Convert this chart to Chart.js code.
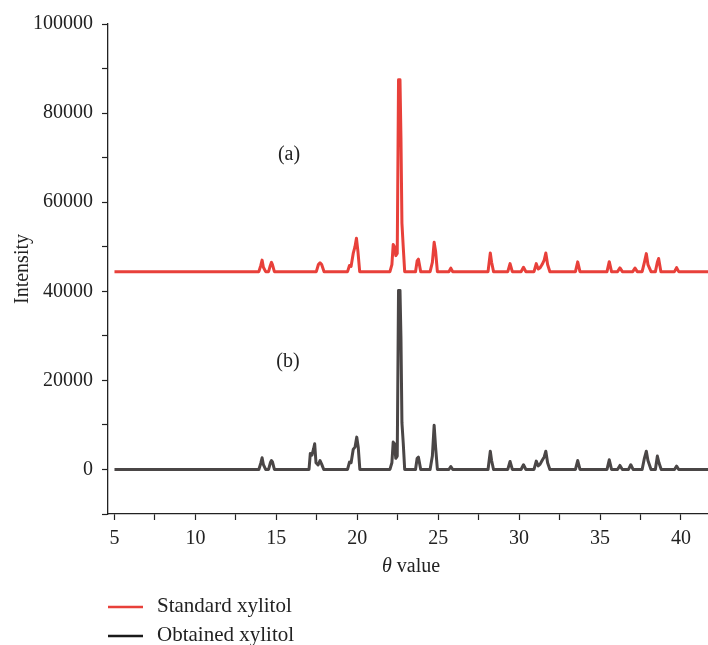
<!DOCTYPE html>
<html>
<head>
<meta charset="utf-8">
<script src="https://cdn.jsdelivr.net/npm/chart.js@4/dist/chart.umd.min.js"></script>
<style>
  html, body { margin: 0; padding: 0; background: #fff; }
  #wrap { position: relative; width: 708px; height: 645px; }
</style>
</head>
<body>
<div id="wrap"><canvas id="c" width="708" height="645"></canvas></div>
<script>
// ---- data ----
const seriesNames = ["Standard xylitol", "Obtained xylitol"];
const panelLabels = ["(a)", "(b)"];
const xTicks = [5, 10, 15, 20, 25, 30, 35, 40];
const yTicks = [0, 20000, 40000, 60000, 80000, 100000];

const thetaStd = [5.0, 13.92, 14.04, 14.12, 14.2, 14.34, 14.52, 14.63, 14.7, 14.76, 14.88,
  17.47, 17.6, 17.7, 17.8, 17.95,
  19.4, 19.52, 19.62, 19.75, 19.86, 19.95, 20.04, 20.15,
  22.02, 22.14, 22.22, 22.3, 22.38, 22.47, 22.55, 22.64, 22.7, 22.76, 22.84, 22.93,
  23.6, 23.7, 23.78, 23.92,
  24.5, 24.64, 24.75, 24.84, 24.95,
  25.66, 25.78, 25.9,
  28.08, 28.22, 28.3, 28.42,
  29.3, 29.44, 29.58,
  30.12, 30.27, 30.42,
  30.92, 31.06, 31.18, 31.3, 31.42, 31.55, 31.65, 31.76, 31.9,
  33.48, 33.62, 33.76,
  35.43, 35.57, 35.71,
  36.08, 36.23, 36.38,
  37.02, 37.16, 37.3,
  37.6, 37.74, 37.86, 37.96, 38.15,
  38.42, 38.54, 38.62, 38.76,
  39.6, 39.73, 39.86,
  41.7];
const intStd = [44400, 44400, 45800, 47000, 45400, 44400, 44400, 45800, 46500, 46000, 44400,
  44400, 46000, 46400, 46000, 44400,
  44400, 45800, 45600, 48500, 50000, 51900, 49000, 44400,
  44400, 46000, 50500, 50000, 48000, 48500, 87500, 87500, 74400, 55300, 50000, 44400,
  44400, 46800, 47200, 44400,
  44400, 46500, 51000, 49000, 44400,
  44400, 45200, 44400,
  44400, 48600, 46500, 44400,
  44400, 46200, 44400,
  44400, 45400, 44400,
  44400, 46200, 45000, 45300, 46000, 47000, 48600, 46000, 44400,
  44400, 46600, 44400,
  44400, 46650, 44400,
  44400, 45240, 44400,
  44400, 45200, 44400,
  44400, 46500, 48450, 46000, 44400,
  44400, 46500, 47350, 44400,
  44400, 45300, 44400,
  44400];

const thetaObt = [5.0, 13.92, 14.04, 14.12, 14.2, 14.34, 14.52, 14.63, 14.7, 14.76, 14.88,
  17.02, 17.1, 17.2, 17.3, 17.37, 17.45, 17.58, 17.7, 17.8, 17.93,
  19.4, 19.52, 19.62, 19.75, 19.86, 19.97, 20.06, 20.16,
  22.02, 22.14, 22.22, 22.3, 22.38, 22.47, 22.55, 22.64, 22.7, 22.76, 22.84, 22.93,
  23.6, 23.7, 23.78, 23.92,
  24.5, 24.64, 24.75, 24.84, 24.95,
  25.66, 25.78, 25.9,
  28.08, 28.22, 28.3, 28.42,
  29.3, 29.44, 29.58,
  30.12, 30.27, 30.42,
  30.92, 31.06, 31.18, 31.3, 31.42, 31.55, 31.65, 31.76, 31.9,
  33.48, 33.62, 33.76,
  35.43, 35.57, 35.71,
  36.08, 36.23, 36.38,
  36.76, 36.9, 37.04,
  37.6, 37.74, 37.86, 37.96, 38.15,
  38.42, 38.54, 38.64, 38.78,
  39.6, 39.73, 39.86,
  41.7];
const intObt = [0, 0, 1400, 2630, 1100, 0, 0, 1500, 2000, 1700, 0,
  0, 3600, 3200, 4600, 5770, 1500, 1000, 2000, 1200, 0,
  0, 1650, 1500, 4500, 5000, 7260, 5000, 0,
  0, 1500, 6140, 5800, 2500, 3000, 40200, 40200, 29500, 10500, 6000, 0,
  0, 2500, 2760, 0,
  0, 3000, 9900, 5000, 0,
  0, 670, 0,
  0, 4100, 2000, 0,
  0, 1800, 0,
  0, 1050, 0,
  0, 1870, 800, 1200, 2000, 2800, 4100, 1500, 0,
  0, 2000, 0,
  0, 2170, 0,
  0, 900, 0,
  0, 1050, 0,
  0, 2500, 4100, 2000, 0,
  0, 3000, 1500, 0,
  0, 740, 0,
  0];

// ---- rendering ----
const FONT = "'Liberation Serif', 'DejaVu Serif', serif";
const toPts = (xs, ys) => xs.map((x, i) => ({ x: x, y: ys[i] }));

const overlay = {
  id: 'overlay',
  afterDraw(chart) {
    const ctx = chart.ctx;
    ctx.save();
    ctx.fillStyle = '#222';
    ctx.textBaseline = 'middle';
    // panel labels
    ctx.font = '20px ' + FONT;
    ctx.textAlign = 'center';
    ctx.fillText(panelLabels[0], 289, 155);
    ctx.fillText(panelLabels[1], 288, 362);
    // x axis title with italic theta
    const cx = (chart.chartArea.left + chart.chartArea.right) / 2 + 3;
    ctx.textAlign = 'left';
    ctx.font = 'italic 20px ' + FONT;
    const wT = ctx.measureText('θ').width;
    ctx.font = '20px ' + FONT;
    const wV = ctx.measureText(' value').width;
    const x0 = cx - (wT + wV) / 2;
    ctx.font = 'italic 20px ' + FONT;
    ctx.fillText('θ', x0, 567);
    ctx.font = '20px ' + FONT;
    ctx.fillText(' value', x0 + wT, 567);
    // legend
    const colors = ['#e8403a', '#1a1a1a'];
    const ly = [607, 636];
    ctx.font = '21px ' + FONT;
    for (let i = 0; i < 2; i++) {
      ctx.strokeStyle = colors[i];
      ctx.lineWidth = 2.5;
      ctx.beginPath();
      ctx.moveTo(108, ly[i]);
      ctx.lineTo(143, ly[i]);
      ctx.stroke();
      ctx.fillStyle = '#222';
      ctx.fillText(seriesNames[i], 157, ly[i] - 1);
    }
    ctx.restore();
  }
};

new Chart(document.getElementById('c'), {
  type: 'scatter',
  data: {
    datasets: [
      { label: seriesNames[0], data: toPts(thetaStd, intStd), showLine: true,
        borderColor: '#e8403a', backgroundColor: '#e8403a', borderWidth: 3,
        pointRadius: 0, tension: 0, borderJoinStyle: 'round' },
      { label: seriesNames[1], data: toPts(thetaObt, intObt), showLine: true,
        borderColor: '#4a4646', backgroundColor: '#4a4646', borderWidth: 3,
        pointRadius: 0, tension: 0, borderJoinStyle: 'round' }
    ]
  },
  options: {
    responsive: false,
    animation: false,
    layout: { padding: { top: 24, right: 0, bottom: 71, left: 0 } },
    plugins: { legend: { display: false }, tooltip: { enabled: false } },
    scales: {
      x: {
        type: 'linear', min: 4.6, max: 41.67,
        afterFit(s) { s.height = 60; },
        border: { display: true, color: '#222', width: 1.3 },
        grid: { display: true, drawOnChartArea: false, drawTicks: true, tickLength: 6, tickColor: '#222', tickWidth: 1.2 },
        ticks: {
          stepSize: 2.5, includeBounds: false, autoSkip: false, maxRotation: 0,
          color: '#222', padding: 7, font: { family: FONT, size: 20 },
          callback: (v) => (xTicks.includes(v) ? String(v) : '')
        }
      },
      y: {
        type: 'linear', min: -10000, max: 100000,
        afterFit(s) { s.width = 108; },
        border: { display: true, color: '#222', width: 1.3 },
        grid: { display: true, drawOnChartArea: false, drawTicks: true, tickLength: 6, tickColor: '#222', tickWidth: 1.2 },
        ticks: {
          stepSize: 10000, includeBounds: false, autoSkip: false,
          color: '#222', padding: 9, font: { family: FONT, size: 20 },
          callback: (v) => (yTicks.includes(v) ? String(v) : '')
        },
        title: { display: true, text: 'Intensity', color: '#222', font: { family: FONT, size: 20 }, padding: { top: 11, bottom: 0 } }
      }
    }
  },
  plugins: [overlay]
});
</script>
</body>
</html>
